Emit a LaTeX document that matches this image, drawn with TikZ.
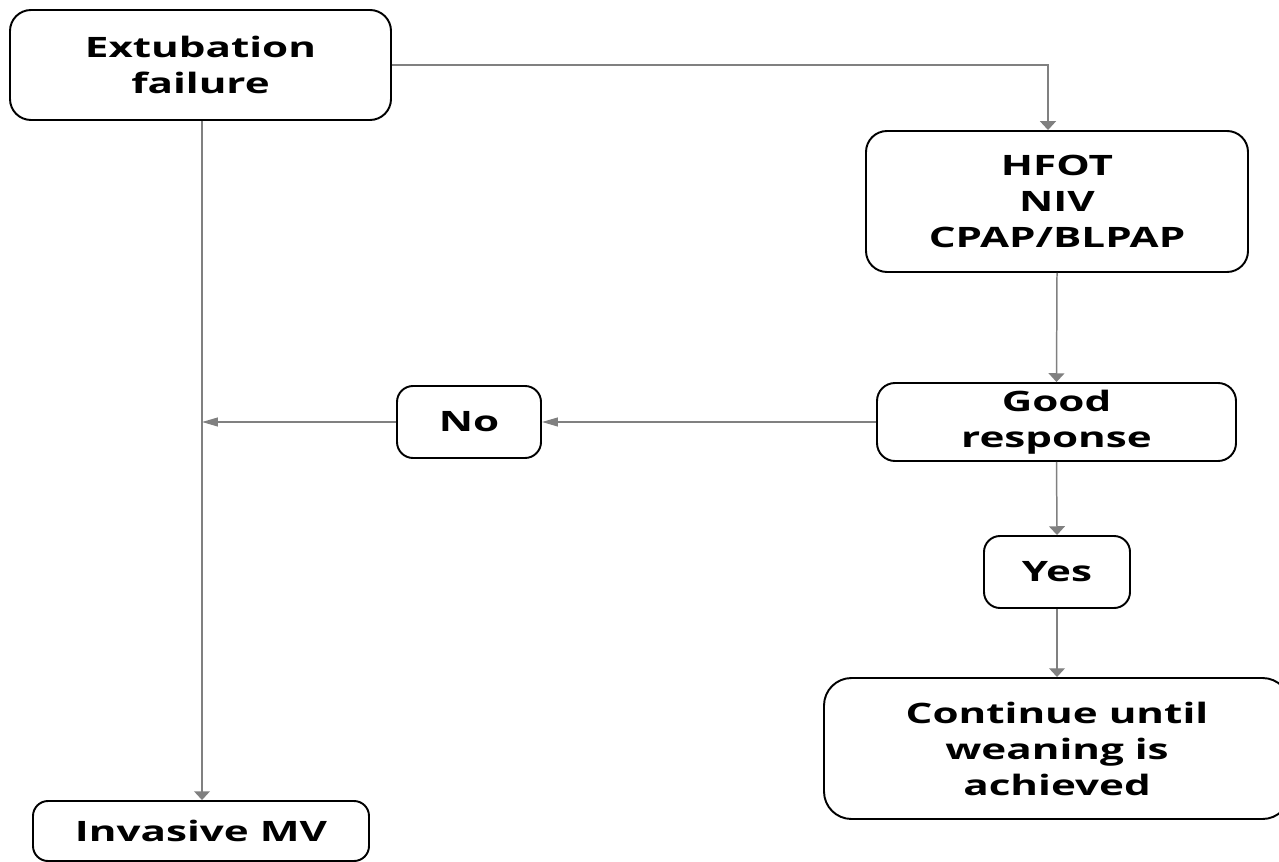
\documentclass[tikz,border=0pt]{standalone}
\usepackage{fontspec}
\setmainfont[FakeStretch=1.5]{Open Sans}
\usepackage{tikz}
\usetikzlibrary{arrows.meta}
\definecolor{linegray}{RGB}{128,128,128}

\begin{document}
\begin{tikzpicture}[
    box/.style={draw=black, line width=1.1pt, rounded corners=0.42cm, align=center,
        font=\fontsize{16}{20.5}\selectfont\bfseries, inner sep=0pt},
    flow/.style={draw=linegray, line width=0.85pt, -{Triangle[width=9pt,length=5pt]}},
    sideflow/.style={flow, -{Triangle[width=5pt,length=9pt]}}
    ]
        \useasboundingbox (0,0) rectangle (25.58,-17.24);

        % Define nodes
        \node[box, minimum width=7.62cm, minimum height=2.2cm] (fail) at (4.01,-1.30) {Extubation\\failure};
        \node[box, minimum width=7.64cm, minimum height=2.82cm] (hfot) at (21.14,-4.03) {HFOT\\NIV\\CPAP/BLPAP};
        \node[box, minimum width=7.18cm, minimum height=1.56cm, rounded corners=0.36cm] (good) at (21.13,-8.44) {Good\\response};
        \node[box, minimum width=2.88cm, minimum height=1.44cm, rounded corners=0.32cm] (no) at (9.38,-8.44) {No};
        \node[box, minimum width=2.92cm, minimum height=1.44cm, rounded corners=0.32cm] (yes) at (21.14,-11.44) {Yes};
        \node[box, minimum width=9.32cm, minimum height=2.82cm, rounded corners=0.55cm] (cont) at (21.14,-14.97) {Continue until\\weaning is\\achieved};
        \node[box, minimum width=6.72cm, minimum height=1.2cm, rounded corners=0.3cm] (imv) at (4.02,-16.62) {Invasive MV};

        % Connect failure to support and to invasive MV
        \draw[flow] (fail.east) -| ([xshift=-0.18cm]hfot.north);
        \draw[flow] ([xshift=0.03cm]fail.south) -- ([xshift=0.03cm]fail.south |- imv.north);

        % Connect support to response
        \draw[flow] (hfot.south) -- (good.north);
        \draw[sideflow] (good.west) -- (no.east);
        \coordinate (join) at ([xshift=0.03cm]fail.south |- no.west);
        \draw[sideflow] (no.west) -- (join);

        % Connect response to continue
        \draw[flow] (good.south) -- (yes.north);
        \draw[flow] (yes.south) -- (cont.north);
    \end{tikzpicture}
\end{document}
